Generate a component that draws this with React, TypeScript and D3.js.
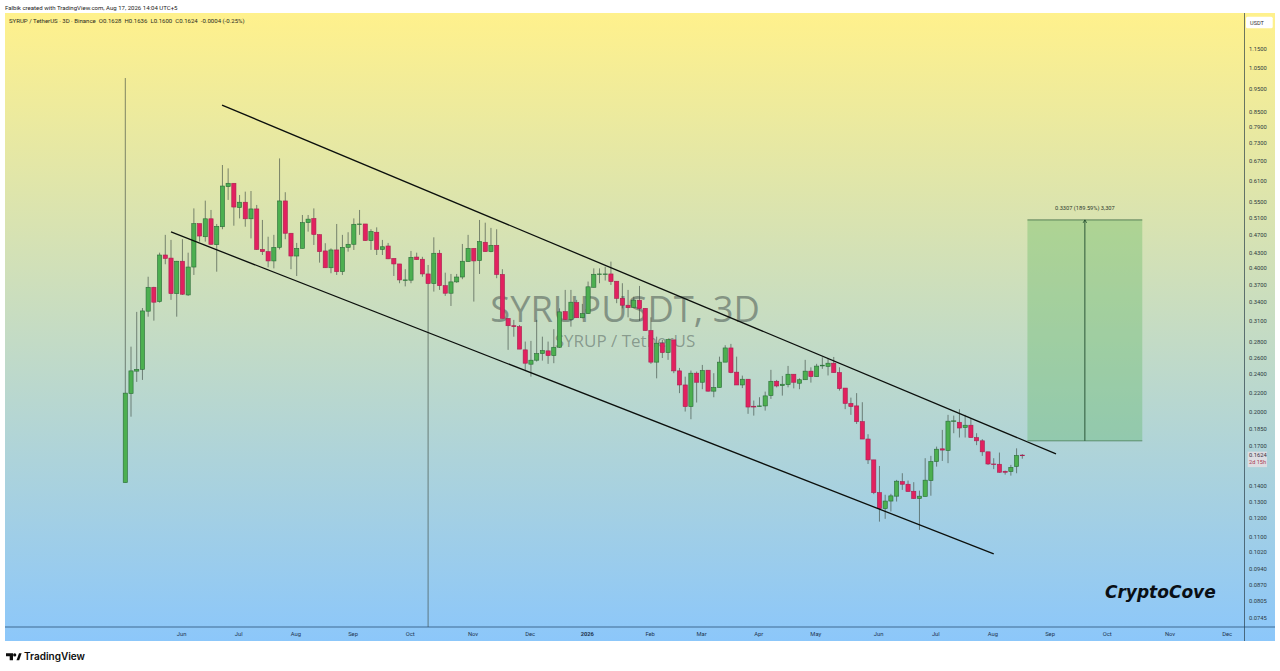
import React from "react";
import * as d3 from "d3";

const highs = [1.0,.2744,.3244,.3305,.3842,.366,.4314,.47,.4587,.4146,.4603,.4314,.5339,.496,.5542,.5299,.4953,.6579,.6473,.6025,.5695,.5787,.5805,.5428,.505,.4658,.47,.6791,.5771,.4737,.4521,.5172,.5172,.5339,.4709,.4515,.4404,.4953,.47,.476,.5088,.5299,.4953,.4829,.4873,.4587,.4521,.4196,.4086,.3984,.435,.4314,.4229,.4066,.4645,.4371,.3918,.3894,.3894,.4499,.47,.4404,.505,.4984,.4861,.4829,.3984,.3145,.3121,.3046,.2812,.2821,.3121,.2879,.2812,.2985,.33,.3606,.3606,.3437,.3371,.3754,.4,.4,.4032,.4132,.376,.3724,.3606,.349,.3675,.33,.316,.2879,.2835,.2839,.2835,.2477,.2375,.2446,.2434,.2513,.245,.2415,.2615,.2763,.2781,.2615,.2387,.2346,.2117,.2151,.221,.2454,.2338,.2383,.2501,.2403,.2356,.2575,.2484,.2526,.2608,.2599,.2611,.2484,.2248,.2147,.2194,.21,.18,.1591,.1545,.1345,.1351,.1445,.1492,.144,.1429,.1372,.1604,.1622,.1696,.1838,.1976,.1969,.2031,.1976,.1945,.1809,.1758,.1654,.1604,.1648,.1511,.1553,.1682,.1636];
const lows = [.1426,.1959,.2316,.2338,.317,.311,.3392,.408,.3437,.317,.352,.3503,.3875,.455,.455,.4477,.3937,.4829,.5561,.4912,.5088,.4888,.4621,.4371,.4266,.402,.4,.4382,.4603,.3984,.3856,.4404,.4774,.4477,.4112,.4012,.3907,.3875,.3875,.4335,.4371,.47,.4565,.4371,.4266,.4266,.4182,.3856,.3724,.3668,.3724,.4166,.3842,.0712,.3577,.3606,.3503,.3338,.373,.3797,.4132,.3409,.3894,.4335,.4323,.3815,.3144,.2702,.2879,.2712,.2446,.2375,.2554,.2566,.2526,.2534,.2727,.3121,.3021,.3154,.3145,.3212,.3652,.3724,.3773,.3693,.3383,.33,.316,.331,.3106,.2965,.2526,.2356,.2598,.2575,.2415,.2194,.2008,.1935,.2097,.2236,.221,.2151,.2254,.2547,.2415,.2282,.2248,.1986,.1969,.2052,.2017,.2134,.2256,.2168,.2256,.2245,.2236,.2338,.2308,.2375,.2466,.2389,.2422,.2221,.2031,.1976,.1892,.1759,.156,.1349,.1182,.1198,.1241,.1302,.1377,.1366,.1319,.1136,.1334,.1339,.154,.1583,.1566,.1809,.1772,.1772,.1771,.1708,.1622,.1553,.1522,.1496,.1482,.1475,.1492,.16];
const opens = [.1426,.2189,.2439,.246,.3255,.3652,.3409,.4266,.4203,.3542,.414,.352,.4026,.496,.4658,.5078,.4483,.4888,.5928,.6025,.5358,.55,.5078,.5325,.4382,.4335,.4146,.4426,.5534,.4737,.4245,.4404,.4984,.5083,.4704,.435,.4012,.4371,.3937,.4426,.4492,.4941,.4953,.4572,.476,.4382,.4455,.4196,.4086,.3775,.3779,.4224,.418,.3894,.3717,.4302,.368,.3549,.3748,.3837,.4132,.4404,.4152,.4536,.4335,.447,.3885,.3144,.3035,.3021,.2702,.2522,.2571,.2654,.2689,.2628,.2736,.3248,.3129,.3392,.3154,.3217,.3652,.3885,.3885,.3894,.376,.3463,.335,.3316,.3432,.33,.2965,.2547,.279,.2667,.2835,.2442,.2282,.2056,.2415,.2312,.245,.2215,.2254,.2547,.2727,.2427,.2282,.2346,.206,.2056,.2063,.2168,.2323,.2274,.2285,.2403,.2301,.234,.2439,.2375,.2501,.2495,.2534,.2422,.2248,.2088,.2063,.1913,.1759,.1591,.1359,.1258,.1305,.1336,.1433,.1415,.1368,.1321,.1334,.144,.1578,.1678,.1664,.1915,.1907,.1859,.188,.1771,.1744,.1654,.156,.1558,.1506,.1504,.1541,.1628];
const closes = [.2194,.2442,.246,.3259,.3652,.3399,.4266,.4196,.3542,.414,.3532,.4026,.496,.4674,.5078,.4492,.4897,.5946,.6025,.5374,.55,.5078,.5325,.4382,.4335,.4146,.4426,.5534,.4737,.4245,.4404,.4984,.507,.4709,.4335,.4012,.4371,.3937,.4426,.4492,.4946,.4953,.4572,.4774,.4382,.4439,.4188,.4086,.3784,.3784,.4218,.4173,.3894,.3717,.4302,.368,.3549,.3748,.3837,.414,.4404,.4146,.455,.4335,.447,.3885,.3144,.3035,.3021,.2712,.2534,.2571,.2654,.2693,.2628,.2736,.3244,.3129,.3399,.3154,.3217,.366,.3888,.3894,.3894,.3754,.3463,.335,.331,.3432,.3296,.2965,.2547,.279,.2667,.2839,.2442,.2282,.2056,.2415,.2312,.2446,.2215,.2254,.2547,.2727,.2422,.2282,.2346,.2052,.2052,.2063,.2165,.2323,.2271,.229,.2403,.2312,.234,.2439,.2375,.2499,.251,.2534,.2422,.2242,.2088,.2056,.1913,.1759,.1591,.1359,.1258,.1305,.1338,.1436,.1415,.1366,.1321,.1336,.1443,.1578,.1675,.1668,.1917,.192,.1855,.188,.1771,.1744,.1654,.156,.1555,.1499,.1499,.1535,.1625,.1624];

const priceTicks = [1.15,1.05,.95,.85,.79,.73,.67,.61,.55,.51,.47,.43,.4,.37,.34,.31,.28,.26,.24,.22,.2,.185,.17,.14,.13,.12,.11,.102,.094,.087,.0805,.0745];
const timeBars = [10,20,30,40,50,61,71,81,92,101,111,121,132,142,152,162,172,183,193];
const timeLabels = ["Jun","Jul","Aug","Sep","Oct","Nov","Dec","2026","Feb","Mar","Apr","May","Jun","Jul","Aug","Sep","Oct","Nov","Dec"];
const upperChannel = [{ bar: 16.93, price: 0.878 }, { bar: 162.9, price: 0.1638 }];
const lowerChannel = [{ bar: 8, price: 0.4767 }, { bar: 152, price: 0.1012 }];
const targetBars = [157.9, 178];
const targetEntry = 0.1744;
const targetTop = 0.5051;
const lastPrice = 0.1624;

const UI = "Roboto, sans-serif";

export default function App() {
  const x = d3.scaleLinear().domain([0, 157]).range([125.3, 1022.3]);
  const y = d3.scaleLog().domain([1.15, 0.0745]).range([49, 617.5]);
  const trend = d3.line<{ bar: number; price: number }>().x((d) => x(d.bar)).y((d) => y(d.price));
  const bw = 4.2;
  const tx0 = x(targetBars[0]);
  const tx1 = x(targetBars[1]);
  const txm = (tx0 + tx1) / 2;
  const ty0 = y(targetTop);
  const ty1 = y(targetEntry);
  const ly = y(lastPrice);
  return (
    <svg width={1280} height={671} style={{ position: "absolute", left: 0, top: 0, background: "#fff" }}>
      <defs>
        <linearGradient id="bg" x1="0" y1="0" x2="0" y2="1">
          <stop offset="0" stopColor="#fff18c" />
          <stop offset="1" stopColor="#8cc7fa" />
        </linearGradient>
        <clipPath id="pane"><rect x={5} y={13} width={1239.5} height={614} /></clipPath>
      </defs>
      <text x={5} y={9.5} fontFamily={UI} fontSize={6.05} fill="#222">Falbik created with TradingView.com, Aug 17, 2026 14:04 UTC+5</text>
      <rect x={5} y={13} width={1270} height={628} fill="url(#bg)" />

      <text x={625} y={322} textAnchor="middle" fontFamily="'Open Sans', sans-serif" fontSize={36.3} fill="#3d4a48" fillOpacity={0.5}>SYRUPUSDT, 3D</text>
      <text x={625} y={347} textAnchor="middle" fontFamily="'Open Sans', sans-serif" fontSize={17} fill="#3d4a48" fillOpacity={0.45}>SYRUP / TetherUS</text>

      <g clipPath="url(#pane)">
        {highs.map((h, i) => (
          <line key={i} x1={x(i)} x2={x(i)} y1={y(h)} y2={y(lows[i])} stroke="#3c4a42" strokeOpacity={0.7} strokeWidth={0.9} />
        ))}
        {opens.map((o, i) => {
          const up = closes[i] >= o;
          const t = y(Math.max(o, closes[i]));
          const b = y(Math.min(o, closes[i]));
          return (
            <rect key={i} x={x(i) - bw / 2} y={t} width={bw} height={Math.max(b - t, 0.6)}
              fill={up ? "#4caf50" : "#e2215f"} stroke={up ? "#2a6b38" : "#a82050"} strokeWidth={0.6} />
          );
        })}
      </g>

      <path d={trend(upperChannel) ?? ""} fill="none" stroke="#0b0f0c" strokeWidth={1.3} />
      <path d={trend(lowerChannel) ?? ""} fill="none" stroke="#0b0f0c" strokeWidth={1.3} />

      <rect x={tx0} y={ty0} width={tx1 - tx0} height={ty1 - ty0} fill="#4caf50" fillOpacity={0.3} />
      <line x1={tx0} x2={tx1} y1={ty0} y2={ty0} stroke="#2d5a36" strokeWidth={0.7} />
      <line x1={tx0} x2={tx1} y1={ty1} y2={ty1} stroke="#4a7f58" strokeWidth={0.8} />
      <line x1={txm} x2={txm} y1={ty0} y2={ty1} stroke="#1f4a2c" strokeWidth={0.9} />
      <path d={`M${txm - 1.8} ${ty0 + 3}L${txm} ${ty0}L${txm + 1.8} ${ty0 + 3}`} fill="none" stroke="#1f4a2c" strokeWidth={0.8} />
      <text x={txm} y={ty0 - 9.5} textAnchor="middle" fontFamily={UI} fontSize={5.7} fill="#2e3a2e">0.3307 (189.59%) 3,307</text>

      <text x={1105} y={598} fontFamily="'DejaVu Sans', sans-serif" fontStyle="italic" fontWeight={600} fontSize={17} fill="#0a0f14">CryptoCove</text>

      <text x={9} y={22.5} fontFamily={UI} fontSize={6.05} fill="#2b2b1e" xmlSpace="preserve">SYRUP / TetherUS · 3D · Binance  O0.1628  H0.1636  L0.1600  C0.1624  -0.0004 (-0.25%)</text>

      <line x1={1244.5} x2={1244.5} y1={13} y2={641} stroke="#263a44" strokeOpacity={0.85} strokeWidth={0.8} />
      <line x1={5} x2={1275} y1={627} y2={627} stroke="#1d4468" strokeWidth={0.7} />

      <rect x={1246} y={16.7} width={26.7} height={11.6} rx={1.5} fill="#fff" />
      <text x={1257} y={24.5} textAnchor="middle" fontFamily={UI} fontSize={5.6} fill="#333">USDT</text>

      {priceTicks.map((p, i) => (
        <text key={i} x={1249} y={y(p) + 2} fontFamily={UI} fontSize={5.8} fill="#2d3a40">{p.toFixed(4)}</text>
      ))}
      <rect x={1247.7} y={ly - 4} width={19.3} height={15.5} fill="#dfdde3" fillOpacity={0.95} />
      <text x={1249} y={ly + 1.5} fontFamily={UI} fontSize={5.8} fill="#3a3040">{lastPrice.toFixed(4)}</text>
      <text x={1249} y={ly + 8.8} fontFamily={UI} fontSize={5.6} fill="#a83a50">2d 15h</text>

      {timeBars.map((b, i) => (
        <text key={i} x={x(b) - 0.8} y={636} textAnchor="middle" fontFamily={UI} fontSize={5.8}
          fontWeight={timeLabels[i] === "2026" ? 700 : 400} fill="#1f3550">{timeLabels[i]}</text>
      ))}

      <g fill="#0d0d0d">
        <path d="M6 653.3H13V660.3H9.7V656.3H6Z" />
        <circle cx={14.7} cy={654.9} r={1.6} />
        <path d="M16.5 660.3L19 653.3H21.6L19.2 660.3Z" />
      </g>
      <text x={24} y={660.2} fontFamily="Inter, sans-serif" fontWeight={600} fontSize={10} fill="#0d0d0d">TradingView</text>
    </svg>
  );
}
